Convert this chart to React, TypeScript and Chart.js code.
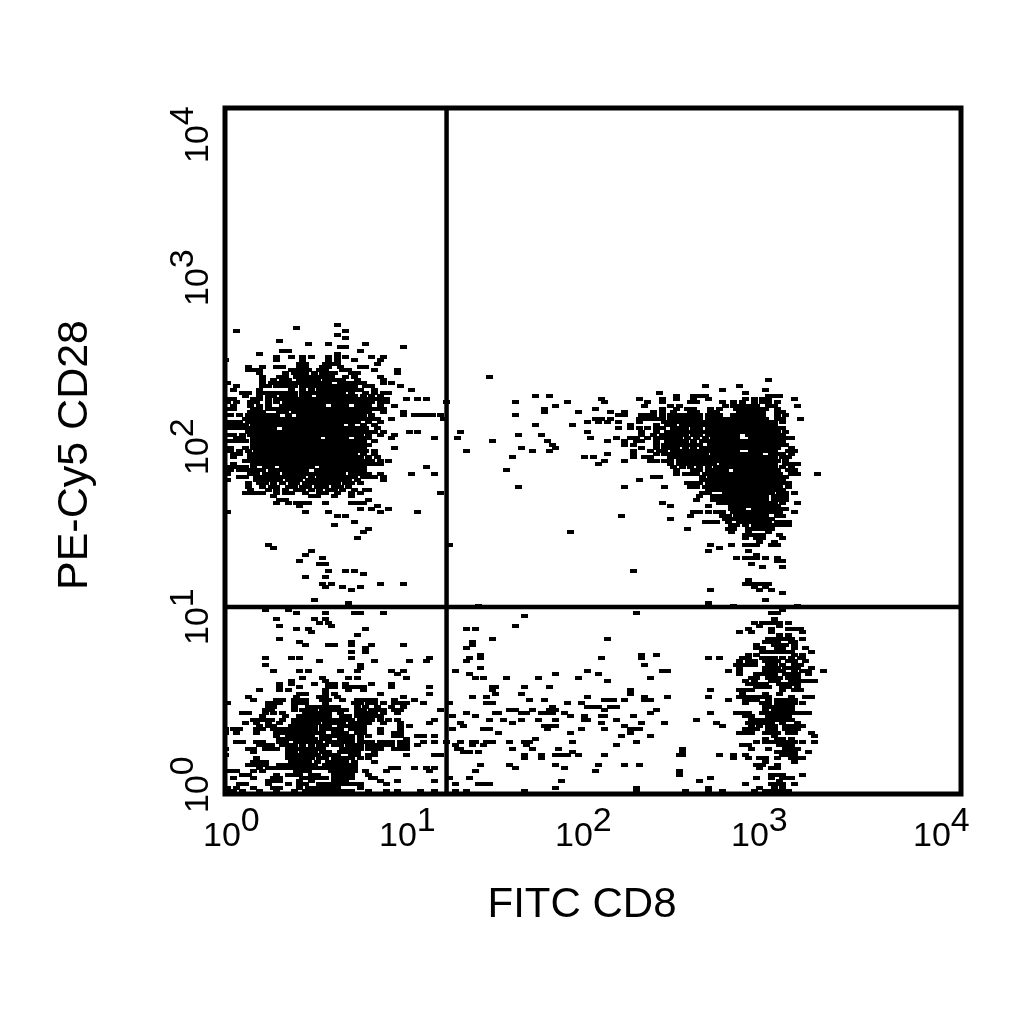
import React, { useEffect, useRef } from "react";
import Chart from "chart.js/auto";

// Events, one row per CD28 channel: [cd28Channel, fitcChannel, fitcChannel, ...]
const upperLeftRows: number[][] = [
  [145,39],[144,25],[143,4,42],[142,39],[141,42],[140,19],[139,29,36,49],[138,40,42,62],[137,20,22,47],[136,12,39],
  [135,18,23,27,30,36,39,42,51,55],[134,0,18,27,36,39,45,54],[133,26,28,35,37,39,53],
  [132,8,13,18,20,26,28,34,36,40,47,49],[131,8,10,12,23,25,27,29,33,35,41,43,52,60],[130,12,21,24,26,28,31,34,36,38,44,46,60],
  [129,13,19,21,25,27,29,31,33,35,37,42,45,54],[128,13,17,20,22,26,28,30,32,35,37,39,41,46,55],
  [127,1,13,16,18,20,22,24,26,28,30,32,34,36,40,42,44,46,48,55,58],[126,4,13,15,18,20,22,24,27,29,31,33,35,37,39,41,43,45,49,51,61],
  [125,3,12,23,27,30,33,35,37,39,41,43,45,47,52,65],[124,6,8,12,14,16,18,20,22,24,27,29,31,33,35,37,39,41,44,49,52,55,57],
  [123,7,12,15,17,20,22,24,27,29,33,35,37,39,41,43,45,48,51,54],
  [122,1,3,10,12,15,18,20,22,24,26,28,30,32,34,36,38,40,42,44,46,48,50,52,54,56,63,67,70],
  [121,1,4,9,11,15,18,21,23,25,27,29,31,33,35,37,39,41,43,45,47,49,51,54,56,77],
  [120,3,9,12,15,20,22,24,26,28,30,32,34,38,40,42,46,48,50,54,59],
  [119,1,3,10,12,15,17,19,21,23,25,27,29,31,33,35,37,39,41,43,45,47,49,51,53,55],
  [118,9,11,13,19,21,24,26,28,30,32,34,36,38,40,42,44,46,48,50,55,62],
  [117,2,5,8,10,12,14,16,18,22,26,28,30,32,34,36,38,40,42,44,46,48,51,62,66,68,70,72,75],
  [116,7,9,11,13,15,17,19,21,23,25,27,29,31,33,35,37,39,41,43,45,47,49,51,53,58,76],
  [115,1,3,5,8,10,12,14,16,18,20,22,24,26,28,30,32,34,36,38,40,42,44,46,50,54],
  [114,1,3,5,7,10,12,14,16,18,20,22,24,26,28,30,32,34,36,38,40,44,48,52],
  [113,1,3,5,7,9,11,13,15,17,21,23,25,27,29,31,33,35,37,39,41,43,45,47,49,53],
  [112,8,10,12,14,16,18,20,22,24,26,28,30,32,34,36,38,40,42,44,46,48,50,52,55,64,67],
  [111,1,3,6,9,11,13,15,17,19,21,23,25,27,29,31,33,35,37,39,41,43,45,47,50,54,59],
  [110,4,6,10,12,14,16,18,20,22,24,26,28,30,32,36,38,40,42,46,48,50,58,73],
  [109,1,3,5,7,10,12,14,16,18,20,22,24,26,28,30,32,34,36,38,40,42,44,46,48,52],
  [108,10,12,14,16,18,20,22,24,26,28,30,32,34,36,38,40,42,44,46,48,50],
  [107,2,7,10,12,14,16,18,20,22,24,26,28,30,32,34,36,38,40,42,44,46,48,59],
  [106,2,5,8,11,13,15,17,19,21,23,25,27,29,31,33,35,37,39,41,43,45,47,49,52],
  [105,3,5,9,11,13,15,17,19,21,23,25,27,29,31,33,35,37,39,41,43,45,48,52],
  [104,3,9,11,13,15,17,19,21,23,25,27,29,31,33,35,37,39,41,43,45,47,50,53],
  [103,7,9,11,13,15,17,19,21,23,25,27,29,31,33,35,37,39,41,43,45,47,49,51,54,57],
  [102,3,10,12,14,16,18,20,22,24,26,28,30,32,34,36,38,40,42,44,46,48,50,52,54],
  [101,1,3,5,7,10,14,16,20,22,24,26,28,30,34,36,38,40,42,44,46,48,70],
  [100,2,5,7,9,11,13,16,18,20,22,24,26,28,32,34,36,38,40,42,44,46,48],
  [99,1,9,11,14,16,18,21,23,25,27,29,31,33,35,37,39,41,44,46,48,50,54,65,73],
  [98,5,7,11,13,15,17,19,21,23,25,27,30,33,35,37,39,41,43,45,48,50,52,55],
  [97,1,11,13,15,17,19,22,24,26,29,31,33,35,37,39,41,43,46,55],
  [96,8,12,14,17,20,23,25,28,30,32,34,35,37,39,42,44,47],
  [95,8,13,16,18,22,24,27,29,32,33,35,38,40,43],
  [94,9,15,18,21,25,27,30,33,36,38,41,45,49,50],
  [93,7,9,11,13,18,21,23,28,33,35,39,44,47,75],[92,17,30,32,38,44],[91,19,21,50],[90,18,22,25,27,29,35,44,46,48],[89,26,53],
  [88,47,51,57],[87,1,28,36,54,67],[86,39,42],[84,45],[83,38],[82,50],[81,48],[79,46],[77,15],[76,17],[75,30],[74,28],[73,34],[72,26],
  [71,33,35],[69,36,42,45],[68,48],[67,28,35],[65,34,37,54,62],[64,35,41,47],[63,44],[60,31],[59,43],
];

const lowerLeftRows: number[][] = [
  [57,14,22],[56,25,35,45,47,55],[54,18,31,35],[53,33,36],[52,19,37],[51,25,29,49],[50,30],[49,46],[48,19],[47,26,44],
  [46,28,36,38,44,51,62],[45,49],[44,44,49],[42,14,23,26,44,71],[41,33,52,64,70],[40,14,47],[39,47],[38,17,26,29,40,46,58,62],
  [37,60],[36,27,34,43,46,63],[35,23,35],[34,19,23,31,36,38,42,51,58],[33,19,26,36,38,42,44,46,48,58,71],
  [32,12,19,22,35,43,48],[31,26,28,35,38,54,71],[30,8,25,33,35,39,62],
  [29,10,18,20,24,26,28,34,36,41,46,48,50,52,59,66],[28,1,15,17,19,24,26,28,35,45,47,50,52,55,59,61,63,69],
  [27,15,17,24,29,31,33,35,37,39,46,49,53,58,62],[26,14,16,24,27,29,31,34,36,38,40,42,46,48,51,53,55,59,61,75],
  [25,6,8,14,17,20,28,30,32,34,36,40,46,48,50,52,55,60],[24,13,21,26,28,30,32,34,36,41,43,46,48,50,52,54],
  [23,10,12,14,16,20,24,26,28,30,32,34,36,38,40,42,44,47,49,51,54,57,60,73],
  [22,7,11,15,19,24,26,28,30,32,35,37,39,41,44,46,48,50,55,61,71],
  [21,12,15,17,23,25,27,29,31,34,36,40,42,44,46,48,61,64],
  [20,0,3,5,11,13,17,19,21,23,25,27,29,31,34,36,38,40,44,46,48,54,61],
  [19,0,4,11,18,20,22,24,26,28,30,32,34,38,40,42,46,48,54,59,61],
  [18,18,22,24,26,28,30,34,36,38,40,42,44,47,50,59,61,67,69,73],
  [17,19,21,23,25,27,29,31,34,36,40,42,44,47,63],
  [16,4,6,11,13,19,21,25,27,29,31,33,36,38,40,42,44,47,49,51,54,56,58,61,63,69,73],
  [15,12,14,16,20,22,24,27,30,33,35,38,40,43,45,47,50,52,54,56,58,61,63,67],
  [14,0,8,10,14,16,18,22,24,26,28,30,32,34,41,43,45,47,50,52,54,59,61,63],
  [13,10,22,24,27,29,31,34,36,40,42,44,46,52],[12,0,22,24,26,28,30,32,35,37,39,44,46,50,52,63,73,75],
  [11,11,22,24,26,28,30,33,35,38,40,42,44,47,50],[10,10,12,14,23,25,27,29,32,36,38,40,42,45,52],
  [9,8,10,12,14,19,21,23,25,27,29,31,35,37,39,41,43,45],[8,12,15,17,19,21,23,25,27,29,31,33,35,37,39,41,43,45,58,60,66,70,73],
  [7,2,4,10,13,25,27,29,37,39,41,43,45,49,56,71],[6,6,8,18,22,24,26,30,32,38,40,42,44,50],
  [5,3,10,17,19,27,29,31,33,35,38,40,42,44,51,52],[4,15,17,19,26,30,38,40,42,54,60,73],
  [3,5,7,15,22,26,28,33,35,37,39,41,43,45,47,56],[2,1,4,10,17,19,26,29,31,33,35,37,39,47],
  [1,1,3,6,12,18,24,28,30,32,34,36,38,40,42,44,50,56,60,68,73],[0,1,4,8,12,16,20,24,27,29,31,33,35,37,39,41,43,47,52,58,64,70,74],
];

const upperRightRows: number[][] = [
  [129,92],[128,189],[126,167,179],[125,173,188],[124,151,181],[123,108,113,157,163,165,167,189,191,193],
  [122,131,144,152,157,163,168,181,184,187,189,198],[121,101,119,132,147,152,162,164,173,177,180,184,187,189,192],
  [120,115,146,155,158,174,177,179,181,183,185,189,191,199],[119,111,129,152,157,161,163,169,172,178,180,182,184,186,188,192],
  [118,111,123,134,139,149,152,156,162,164,169,171,179,181,183,185,187,192,194],
  [117,101,137,139,145,147,149,152,155,157,159,161,163,165,168,170,172,177,179,181,183,185,187,192,195],
  [116,129,131,134,144,146,148,150,152,155,157,159,161,163,165,168,170,172,174,176,178,180,182,184,186,188,192,194,200],
  [115,126,130,133,137,144,153,155,157,159,161,163,165,167,169,171,173,175,177,179,181,183,185,187,189,191,194],
  [114,108,121,141,150,154,156,159,161,163,165,167,169,171,173,175,177,179,181,183,185,187,189,191],
  [113,137,141,144,147,150,152,156,158,160,163,165,168,170,172,174,176,178,180,182,184,186,188,190,192,194],
  [112,82,126,145,150,154,156,158,160,162,164,166,168,170,172,174,176,178,180,182,184,186,188,190,192,195],
  [111,102,110,145,149,152,154,156,158,160,163,165,168,170,172,174,176,178,182,184,186,188,190,192,194],
  [110,81,127,136,141,143,147,150,152,154,156,158,161,164,167,170,172,174,176,178,183,185,187,189,191,193,195,197],
  [109,93,112,133,139,143,145,150,154,156,158,160,163,166,168,170,172,174,176,178,180,182,184,186,188,190,192,194],
  [108,114,139,142,150,153,155,157,159,161,163,165,169,171,173,175,177,179,181,183,185,187,189,191,193,195],
  [107,103,115,145,150,153,155,157,160,163,166,168,170,172,174,176,178,180,182,184,186,188,190,192,197],
  [106,84,107,113,142,148,151,153,156,158,160,162,164,166,168,170,172,174,176,178,183,185,187,189,191,196,198],
  [105,133,142,150,153,155,157,159,161,163,165,167,170,172,174,176,178,180,182,184,186,190,192,194,197],
  [104,100,125,128,142,146,148,155,157,159,161,163,165,167,169,171,173,175,177,179,181,183,185,187,189,191,194,196],
  [103,132,139,148,150,153,155,158,160,162,164,166,168,170,172,174,176,178,180,182,184,186,188,190,192,195],
  [102,130,155,158,160,162,164,166,168,170,173,175,177,179,181,183,185,187,189,191,195,197,199],
  [101,156,159,162,165,168,171,173,175,177,179,181,183,185,187,189,191,194,197],
  [100,98,157,163,165,168,170,172,174,178,180,182,184,186,188,190,192,196,198],
  [99,157,160,162,164,167,169,171,173,175,177,179,181,183,185,187,189,191,193,197,199,206],
  [98,149,151,166,169,171,173,175,177,179,181,183,185,187,189,191,193,195],
  [97,144,166,168,170,172,174,176,178,180,182,184,186,188,190,192,194],
  [96,161,163,165,168,170,172,174,176,178,180,182,184,186,188,190,192,194,196],
  [95,102,139,153,162,164,167,169,171,173,175,177,179,181,183,185,187,189,191,193,196],
  [94,168,170,172,174,176,178,180,182,184,186,188,190,192,194],
  [93,166,168,174,176,178,180,182,184,186,188,190,193,195,198],
  [92,165,170,172,174,176,178,180,182,184,186,188,191,193,195],
  [91,164,170,172,174,176,178,180,182,184,186,188,191,193,195],
  [90,152,172,174,175,177,179,181,183,185,187,189,191,194,199],
  [89,155,168,176,178,180,182,184,186,188,190,192],
  [88,176,178,180,184,186,188,190,192,193,195],[87,163,165,168,171,173,177,179,181,183,185,187,189,191,193,198],
  [86,138,162,173,175,178,180,182,184,186,188,192,194],[85,155,174,176,178,180,182,184,186,188,190],
  [84,167,169,171,175,179,181,183,185,187,189,192,194,196],[83,176,178,181,184,186,188,190,192,194,196],
  [82,161,175,177,182,184,186,188,190],[81,120,176,182,189],[80,181,183,185,187,193],[79,181,185,187,194],[78,186,191],
  [77,78,169,176,181,183,185,190,192],[76,172],[75,168,182],[74,185],[73,178,181,183,185,188,192],[72,192,194],[71,183],
  [70,187,194],[69,142],[66,182],[65,181,183,185,187,189],[64,184,188],[63,169,186,190],[62,194],[60,188],[59,168],[58,88,177,199],
];

const lowerRightRows: number[][] = [
  [57,194],[56,143,190,192],[55,104],[54,191],[53,184,187,189,191,193,196],[52,101,186,193],[51,84,87,182,190,196,198,200],
  [50,179,183,190,201],[49,193,196],[48,93,133,189,191,193,195,197,201],[47,86,188,190,192,197,198],[46,86,185,191,193,195,198],
  [45,84,185,187,192,194,198,202],[44,187,189,191,193,195,197,204],[43,89,145,150,182,185,198,201],
  [42,85,89,131,145,168,172,180,182,187,189,191,194,197,200,201],[41,84,179,182,184,188,190,192,196,198,202],
  [40,146,178,180,182,184,189,191,194,198,200],[39,89,179,188,190,192,195,197,199,204],
  [38,80,126,152,154,175,179,188,190,192,194,198,201,203,208],[37,85,115,130,179,185,187,189,191,195,197,199,203],
  [36,87,90,98,109,123,148,183,185,189,191,193,196,198,199],[35,133,181,184,190,192,197,199,201,203,205],
  [34,182,184,186,188,193,195,197,198,199],[33,93,94,104,113,185,187,189,194,196,199],
  [32,93,141,169,179,181,183,194,198,200],[31,94,103,141,180,188,193],[30,86,91,126,146,154,168,179,181,183,185,187,189,197,202,204],
  [29,106,111,132,134,135,139,146,148,175,181,183,185,189,192,194,196,198],[28,78,91,93,119,124,181,187,189,192,194,196,198,201],
  [27,114,126,128,130,134,136,188,190,191,193,195,197],[26,99,101,107,113,115,132,150,188,191,193,195,197],
  [25,84,94,95,103,105,110,112,114,118,148,169,178,180,182,187,189,191,193,195,197,199,201,203],
  [24,79,87,120,125,131,132,142,181,183,189,191,193,195,196],[23,92,97,103,109,115,125,126,136,164,183,185,187,189,191,193,195,197],
  [22,82,100,131,145,153,171,182,184,186,188,190,194,199],[21,83,111,113,115,139,173,183,186,189,191,195,197,199,201],
  [20,79,90,92,112,124,132,141,143,144,181,183,185,189,191,195,197,199],[19,95,120,141,179,181,183,188,190,192,196,198,204],
  [18,138,148,191,205],[17,108,188,192,194,197],[16,77,82,86,87,91,93,99,104,106,121,143,185,188,190,192,194,196,198,201,205],
  [15,80,86,90,105,136,180,182,193,195,197],[14,81,82,100,107,116,159,183,189,195,197,199],
  [13,83,85,88,121,159,192,194,196,198,203],[12,104,110,115,117,119,123,132,158,159,172,177,181,194,196,198],
  [11,104,110,177,182,186,188,192,197,199,201],[10,188,198],[9,89,99,115,130,139,144,185,187,192],
  [8,101,118,186,190,192],[7,87,129,158],[6,158,190,192,194,201],[5,78,85,169,185,190,194,195,197],[4,117,165,193],
  [3,80,88,90,92,181,190,192,194,198],[2,115,143,168,186,191,194],
  [1,80,84,104,143,160,168,173,184,188,190,192,194,196],
  [0,78,81,84,87,90,93,96,99,102,105,108,111,115,118,121,124,128,131,134,137,140,143,146,150,153,157,160,165,170,174,185,188,191,193,196],
];

const fitcChannelsPerDecade = 64;
const cd28ChannelsPerDecade = 53;

// quadrant gates
const fitcGate = 16;
const cd28Gate = 12.3;

const axisMin = 1;
const axisMax = 10000;
const decades = [0, 1, 2, 3, 4];
// the printed labels sit a little off their decades in the original
const xLabelShift = [-22, -30, -38, -46, -48];
const yLabelShift = [19, 22.5, 24, 26.5, 55];

const fontFamily = '"Liberation Sans", Arial, sans-serif';

const toPoints = (rows: number[][]) =>
  rows.flatMap(([row, ...channels]) =>
    channels.map((ch) => ({
      x: 10 ** (ch / fitcChannelsPerDecade),
      y: 10 ** (row / cd28ChannelsPerDecade),
    }))
  );

const frameAndLabels = {
  id: "frameAndLabels",
  afterDatasetsDraw(chart: any) {
    const { ctx, chartArea, scales } = chart;
    ctx.save();
    ctx.strokeStyle = "#000";
    ctx.lineWidth = 5;
    ctx.strokeRect(chartArea.left, chartArea.top, chartArea.right - chartArea.left, chartArea.bottom - chartArea.top);

    ctx.fillStyle = "#000";
    ctx.font = `34px ${fontFamily}`;
    ctx.textBaseline = "alphabetic";
    ctx.textAlign = "left";
    const tenWidth = ctx.measureText("10").width;

    decades.forEach((d, i) => {
      const px = scales.x.getPixelForValue(10 ** d) + xLabelShift[i];
      ctx.fillText("10", px, 846);
      ctx.fillText(String(d), px + tenWidth, 831);

      const py = scales.y.getPixelForValue(10 ** d) + yLabelShift[i];
      ctx.save();
      ctx.translate(208, py);
      ctx.rotate(-Math.PI / 2);
      ctx.fillText("10", 0, 0);
      ctx.fillText(String(d), tenWidth, -15);
      ctx.restore();
    });

    // axis titles are off-centre in the original
    ctx.textAlign = "center";
    ctx.font = `42px ${fontFamily}`;
    ctx.fillText("FITC CD8", 582, 917);
    ctx.save();
    ctx.translate(87, 455);
    ctx.rotate(-Math.PI / 2);
    ctx.font = `43px ${fontFamily}`;
    ctx.fillText("PE-Cy5 CD28", 0, 0);
    ctx.restore();
    ctx.restore();
  },
};

export default function App() {
  const chartRef = useRef<HTMLCanvasElement | null>(null);

  useEffect(() => {
    if (!chartRef.current) return;
    document.body.style.margin = "0";

    // each event is a small flat dash, wider than tall
    const dash = document.createElement("canvas");
    dash.width = 7;
    dash.height = 4;
    const dashCtx = dash.getContext("2d");
    if (dashCtx) {
      dashCtx.fillStyle = "#000";
      dashCtx.fillRect(0, 0, 7, 4);
    }

    const events = (label: string, rows: number[][]) => ({
      label,
      data: toPoints(rows),
      pointStyle: dash,
      pointRadius: 3,
      showLine: false,
    });
    const gate = (label: string, data: { x: number; y: number }[]) => ({
      label,
      data,
      showLine: true,
      borderColor: "#000",
      borderWidth: 4.5,
      pointRadius: 0,
    });

    const chart = new Chart(chartRef.current, {
      type: "scatter",
      data: {
        datasets: [
          events("upper left", upperLeftRows),
          events("upper right", upperRightRows),
          events("lower left", lowerLeftRows),
          events("lower right", lowerRightRows),
          gate("FITC gate", [{ x: fitcGate, y: axisMin }, { x: fitcGate, y: axisMax }]),
          gate("CD28 gate", [{ x: axisMin, y: cd28Gate }, { x: axisMax, y: cd28Gate }]),
        ],
      } as any,
      plugins: [frameAndLabels],
      options: {
        responsive: false,
        animation: false,
        devicePixelRatio: 1,
        layout: { padding: { left: 225, top: 108, right: 63, bottom: 230 } },
        plugins: { legend: { display: false }, tooltip: { enabled: false } },
        scales: {
          x: {
            type: "logarithmic",
            min: axisMin,
            max: axisMax,
            grid: { display: false, drawTicks: false },
            border: { display: false },
            ticks: { display: false },
          },
          y: {
            type: "logarithmic",
            min: axisMin,
            max: axisMax,
            grid: { display: false, drawTicks: false },
            border: { display: false },
            ticks: { display: false },
          },
        },
      },
    } as any);

    return () => chart.destroy();
  }, []);

  return (
    <div style={{ position: "fixed", left: 0, top: 0, width: 1024, height: 1024, background: "#fff" }}>
      <canvas ref={chartRef} width={1024} height={1024} />
    </div>
  );
}
